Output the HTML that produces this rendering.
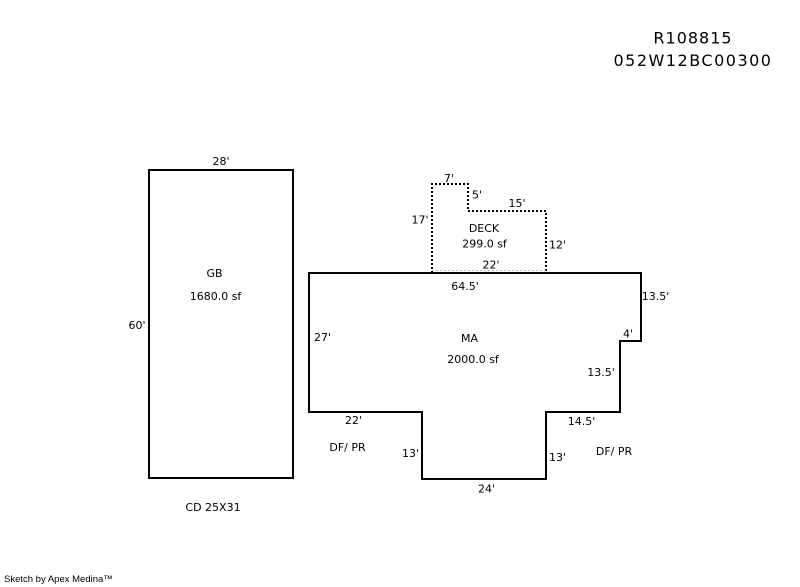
<!DOCTYPE html>
<html>
<head>
<meta charset="utf-8">
<style>
  html, body { margin:0; padding:0; background:#fff; }
  svg { display:block; }
  text { font-family: "DejaVu Sans", "Liberation Sans", sans-serif; font-size:11px; fill:#000; }
</style>
</head>
<body>
<svg width="800" height="587" viewBox="0 0 800 587" xmlns="http://www.w3.org/2000/svg">
  <rect width="800" height="587" fill="#fff"/>

  <!-- header -->
  <text x="693" y="43.5" text-anchor="middle" style="font-size:16px;letter-spacing:1px">R108815</text>
  <text x="693" y="66" text-anchor="middle" style="font-size:16px;letter-spacing:1.5px">052W12BC00300</text>

  <!-- GB -->
  <rect x="149" y="170" width="144" height="308" fill="none" stroke="#000" stroke-width="2"/>
  <text x="221" y="165" text-anchor="middle">28'</text>
  <text x="214.5" y="277" text-anchor="middle">GB</text>
  <text x="215.5" y="300" text-anchor="middle">1680.0 sf</text>
  <text x="137" y="329" text-anchor="middle">60'</text>
  <text x="213" y="511" text-anchor="middle">CD 25X31</text>

  <!-- Deck (dotted) -->
  <path d="M432 273 L432 184 L468 184 L468 211 L546 211 L546 273" fill="none" stroke="#000" stroke-width="2" stroke-dasharray="2 2"/>
  <line x1="432" y1="270.5" x2="546" y2="270.5" stroke="#bbb" stroke-width="1" stroke-dasharray="2 2"/>

  <!-- MA -->
  <path d="M309 273 L641 273 L641 341 L620 341 L620 412 L546 412 L546 479 L422 479 L422 412 L309 412 Z" fill="none" stroke="#000" stroke-width="2"/>

  <!-- deck labels -->
  <text x="449" y="182" text-anchor="middle">7'</text>
  <text x="477" y="198.5" text-anchor="middle">5'</text>
  <text x="517" y="207" text-anchor="middle">15'</text>
  <text x="420" y="223.5" text-anchor="middle">17'</text>
  <text x="484" y="232" text-anchor="middle">DECK</text>
  <text x="484.5" y="247.5" text-anchor="middle">299.0 sf</text>
  <text x="557.5" y="248.5" text-anchor="middle">12'</text>
  <text x="491" y="268.5" text-anchor="middle">22'</text>

  <!-- MA labels -->
  <text x="465" y="290" text-anchor="middle">64.5'</text>
  <text x="655.5" y="300" text-anchor="middle">13.5'</text>
  <text x="628" y="337.5" text-anchor="middle">4'</text>
  <text x="322.5" y="341" text-anchor="middle">27'</text>
  <text x="469.5" y="342" text-anchor="middle">MA</text>
  <text x="473" y="363" text-anchor="middle">2000.0 sf</text>
  <text x="601" y="376" text-anchor="middle">13.5'</text>
  <text x="353.5" y="424" text-anchor="middle">22'</text>
  <text x="581.5" y="425" text-anchor="middle">14.5'</text>
  <text x="347.5" y="451" text-anchor="middle">DF/ PR</text>
  <text x="614" y="455" text-anchor="middle">DF/ PR</text>
  <text x="410.5" y="457" text-anchor="middle">13'</text>
  <text x="557.5" y="461" text-anchor="middle">13'</text>
  <text x="486.5" y="492.5" text-anchor="middle">24'</text>

  <!-- footer -->
  <text x="4" y="582" style="font-family:'Liberation Sans',sans-serif;font-size:9.5px">Sketch by Apex Medina™</text>
</svg>
</body>
</html>
